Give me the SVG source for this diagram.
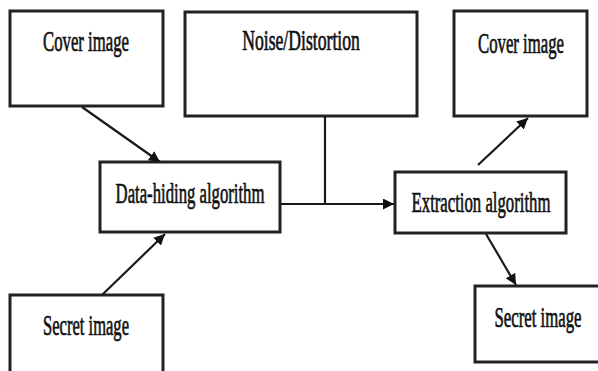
<svg xmlns="http://www.w3.org/2000/svg" width="598" height="371" viewBox="0 0 598 371">
<style>
.box{fill:#fff;stroke:#222;stroke-width:3}
.lbl{font-family:"Liberation Serif","Times New Roman",serif;font-size:29px;fill:#111;stroke:#111;stroke-width:0.7;text-anchor:middle}
.con{fill:none;stroke:#1a1a1a;stroke-width:2.2}
</style>
<defs>
<marker id="ah" viewBox="0 0 10 10" refX="10" refY="5" markerWidth="5" markerHeight="5" orient="auto" markerUnits="strokeWidth">
<path d="M0,0L10,5L0,10z" fill="#111"/>
</marker>
</defs>
<rect width="598" height="371" fill="#fff"/>
<g id="cover-left"><rect class="box" x="10" y="11" width="153" height="95"/><text class="lbl" transform="translate(86,51) scale(0.577,1)">Cover image</text></g>
<g id="noise"><rect class="box" x="185" y="12" width="232" height="104"/><text class="lbl" transform="translate(301,50) scale(0.609,1)">Noise/Distortion</text></g>
<g id="cover-right"><rect class="box" x="454" y="11" width="133" height="105"/><text class="lbl" transform="translate(521,53) scale(0.577,1)">Cover image</text></g>
<g id="data-hiding"><rect class="box" x="100" y="162" width="180" height="70"/><text class="lbl" transform="translate(190,203) scale(0.576,1)">Data-hiding algorithm</text></g>
<g id="extraction"><rect class="box" x="395" y="172" width="171" height="61"/><text class="lbl" transform="translate(481,212) scale(0.577,1)">Extraction algorithm</text></g>
<g id="secret-right"><rect class="box" x="475" y="286" width="140" height="76"/><text class="lbl" transform="translate(538,327) scale(0.578,1)">Secret image</text></g>
<g id="secret-left"><rect class="box" x="10" y="295" width="153" height="90"/><text class="lbl" transform="translate(86,335) scale(0.571,1)">Secret image</text></g>
<g id="connectors">
<path class="con" d="M82,107L160,162" marker-end="url(#ah)"/>
<path class="con" d="M102,295L165,234" marker-end="url(#ah)"/>
<path class="con" d="M325,116V204"/>
<path class="con" d="M281,204H394" marker-end="url(#ah)"/>
<path class="con" d="M478,165L528,118" marker-end="url(#ah)"/>
<path class="con" d="M486,234L516,285" marker-end="url(#ah)"/>
</g>
</svg>
